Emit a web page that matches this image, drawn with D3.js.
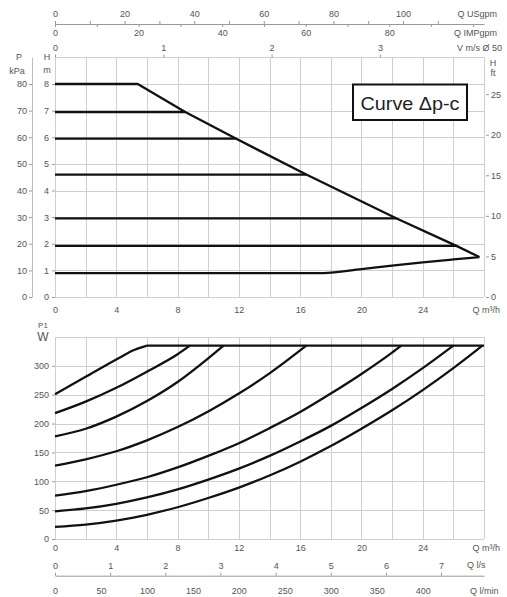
<!DOCTYPE html>
<html><head><meta charset="utf-8">
<script src="https://cdn.jsdelivr.net/npm/d3@7"></script>
<style>
html,body{margin:0;padding:0;background:#fff;}
svg{display:block;font-family:"Liberation Sans",Arial,sans-serif;}
.tick text{fill:#555;font-size:9px;}
.tick line{stroke:#999;}
.unit{fill:#555;font-size:9px;}
</style></head>
<body>
<svg id="c" width="507" height="597"></svg>
<script>
// ---------- data ----------
const qTicks = [0, 4, 8, 12, 16, 20, 24];
const hTicks = [0, 1, 2, 3, 4, 5, 6, 7, 8];
const kpaTicks = [0, 10, 20, 30, 40, 50, 60, 70, 80];
const ftTicks = [0, 5, 10, 15, 20, 25];
const usgpmTicks = [0, 10, 20, 30, 40, 50, 60, 70, 80, 90, 100, 110];
const usgpmLabels = [0, 20, 40, 60, 80, 100];
const impTicks = [0, 10, 20, 30, 40, 50, 60, 70, 80, 90, 100];
const impLabels = [0, 20, 40, 60, 80];
const vTicks = [0, 1, 2, 3];
const pTicks = [0, 50, 100, 150, 200, 250, 300];
const lsTicks = [0, 1, 2, 3, 4, 5, 6, 7];
const lminTicks = [0, 50, 100, 150, 200, 250, 300, 350, 400];

// head curves (Δp-c): constant levels and the Q where each meets the max curve
const headLevels = [6.95, 5.95, 4.6, 2.95, 1.92];
const headEndQ = [8.5, 11.8, 16.4, 22.3, 26.2];
// maximum curve
const maxQ = [0, 5.4, 8.5, 11.8, 16.4, 22.3, 26.2, 27.7];
const maxH = [8, 8, 6.95, 5.95, 4.6, 2.95, 1.92, 1.5];
// minimum curve
const minQ = [0, 17.5, 20, 22, 24, 26, 27.7];
const minH = [0.9, 0.9, 1.05, 1.18, 1.3, 1.41, 1.5];

// power curves P1 (W)
const powerQ = [
  [0, 2, 4, 5.2, 6],
  [0, 2, 4, 6, 8, 8.8],
  [0, 2, 4, 6, 8, 10, 11],
  [0, 2, 4, 6, 8, 10, 12, 14, 16.4],
  [0, 2, 4, 6, 8, 10, 12, 14, 16, 18, 20, 22, 22.6],
  [0, 2, 4, 6, 8, 10, 12, 14, 16, 18, 20, 22, 24, 26],
  [0, 2, 4, 6, 8, 10, 12, 14, 16, 18, 20, 22, 24, 26, 27.9]
];
const powerP = [
  [251, 281, 311, 328, 335],
  [218, 238, 262, 290, 320, 335],
  [178, 191, 212, 239, 272, 313, 335],
  [127, 138, 152, 171, 194, 221, 252, 287, 335],
  [75, 83, 94, 107, 124, 144, 166, 192, 220, 252, 286, 323, 335],
  [48, 53, 61, 72, 86, 103, 122, 144, 169, 196, 227, 260, 296, 335],
  [21, 25, 32, 42, 55, 71, 89, 110, 134, 161, 191, 223, 258, 296, 335]
];
const pMax = 335;
const pMaxQ = [6, 28];

// ---------- scales ----------
const svg = d3.select("#c");
const x = d3.scaleLinear().domain([0, 28]).range([55, 484]);
const yH = d3.scaleLinear().domain([0, 9]).range([297, 57.4]);
const yKpa = d3.scaleLinear().domain([0, 90]).range([297, 57.4]);
const yFt = d3.scaleLinear().domain([0, 9 / 0.3048]).range([297, 57.4]);
const yP = d3.scaleLinear().domain([0, 350]).range([539, 337]);
const xUS = d3.scaleLinear().domain([0, 28 / 0.2271247]).range([55, 484]);
const xIMP = d3.scaleLinear().domain([0, 28 / 0.2727654]).range([55, 484]);
const xV = d3.scaleLinear().domain([0, 28 / 7.0686]).range([55, 484]);
const xLs = d3.scaleLinear().domain([0, 28 / 3.6]).range([55, 484]);
const xLmin = d3.scaleLinear().domain([0, 28 / 0.06]).range([55, 484]);

const gridCol = "#cfcfcf";
// ---------- grids ----------
function grid(yScale, yVals) {
  const g = svg.append("g").attr("stroke", gridCol).attr("stroke-width", 1);
  const [y0, y1] = yScale.range();
  d3.range(0, 29, 2).forEach(q => g.append("line")
    .attr("x1", Math.round(x(q)) + 0.5).attr("x2", Math.round(x(q)) + 0.5)
    .attr("y1", y0).attr("y2", y1));
  yVals.forEach(v => g.append("line")
    .attr("x1", x(0)).attr("x2", x(28))
    .attr("y1", Math.round(yScale(v)) + 0.5).attr("y2", Math.round(yScale(v)) + 0.5));
}
grid(yH, d3.range(0, 10, 1));
grid(yP, d3.range(0, 351, 50));

function styleAxis(g, showDomain) {
  g.select(".domain").attr("stroke", showDomain ? "#999" : "none");
  return g;
}

// ---------- top chart axes ----------
styleAxis(svg.append("g").attr("transform", "translate(0,24)")
  .call(d3.axisTop(xUS).tickValues(usgpmTicks).tickSize(3).tickSizeOuter(0).tickPadding(4)
    .tickFormat(d => usgpmLabels.includes(d) ? d : "")), true);
styleAxis(svg.append("g").attr("transform", "translate(0,24)")
  .call(d3.axisBottom(xIMP).tickValues(impTicks.filter(d => xIMP(d) <= 484)).tickSize(3).tickSizeOuter(0).tickPadding(3)
    .tickFormat(d => impLabels.includes(d) ? d : "")), false);
styleAxis(svg.append("g").attr("transform", "translate(0,57.4)")
  .call(d3.axisTop(xV).tickValues(vTicks).tickSize(3).tickSizeOuter(0).tickPadding(3)
    .tickFormat(d3.format("d"))), false);

styleAxis(svg.append("g").attr("transform", "translate(0,297)")
  .call(d3.axisBottom(x).tickValues(qTicks).tickSize(0).tickPadding(10)), false);
styleAxis(svg.append("g").attr("transform", "translate(55,0)")
  .call(d3.axisLeft(yH).tickValues(hTicks).tickSize(3).tickPadding(3)), false);
const kg = styleAxis(svg.append("g").attr("transform", "translate(32,0)")
  .call(d3.axisLeft(yKpa).tickValues(kpaTicks).tickSize(3).tickSizeOuter(0).tickPadding(2)), true);
kg.select(".domain").attr("stroke", "#bbb");
styleAxis(svg.append("g").attr("transform", "translate(486,0)")
  .call(d3.axisRight(yFt).tickValues(ftTicks).tickSize(3).tickPadding(2)), false);

// ---------- bottom chart axes ----------
styleAxis(svg.append("g").attr("transform", "translate(55,0)")
  .call(d3.axisLeft(yP).tickValues(pTicks).tickSize(3).tickPadding(3)), false);
styleAxis(svg.append("g").attr("transform", "translate(0,539)")
  .call(d3.axisBottom(x).tickValues(qTicks).tickSize(0).tickPadding(6)), false);
styleAxis(svg.append("g").attr("transform", "translate(0,575.7)")
  .call(d3.axisTop(xLs).tickValues(lsTicks).tickSize(3).tickSizeOuter(0).tickPadding(4)), true);
styleAxis(svg.append("g").attr("transform", "translate(0,575.7)")
  .call(d3.axisBottom(xLmin).tickValues(lminTicks).tickSize(0).tickPadding(12)), false);

// ---------- unit labels ----------
function unit(txt, xx, yy, anchor, size) {
  svg.append("text").attr("class", "unit").attr("x", xx).attr("y", yy)
    .attr("text-anchor", anchor || "start").attr("dominant-baseline", "central")
    .style("font-size", (size || 9) + "px").text(txt);
}
unit("Q USgpm", 497, 14, "end");
unit("Q IMPgpm", 497, 33, "end");
unit("V m/s Ø 50", 502, 48, "end");
unit("P", 19, 57, "middle");
unit("kPa", 17, 71, "middle");
unit("H", 47, 57, "middle");
unit("m", 47, 70, "middle");
unit("H", 493, 63, "middle");
unit("ft", 493, 73, "middle");
unit("Q m³/h", 500, 310, "end");
unit("P1", 43, 325, "middle", 8);
unit("W", 43, 337, "middle", 12);
unit("Q m³/h", 500, 548, "end");
unit("Q l/s", 467, 565, "start");
unit("Q l/min", 470, 590.5, "start");

// ---------- curves ----------
const curveCol = "#111";
const lineH = d3.line().x(d => x(d[0])).y(d => yH(d[1]));
const gTop = svg.append("g").attr("fill", "none").attr("stroke", curveCol)
  .attr("stroke-width", 2.3).attr("stroke-linejoin", "round");
gTop.append("path").attr("d", lineH(maxQ.map((q, i) => [q, maxH[i]])));
headLevels.forEach((h, i) => gTop.append("path").attr("d", lineH([[0, h], [headEndQ[i], h]])));
gTop.append("path").attr("d", d3.line().x(d => x(d[0])).y(d => yH(d[1])).curve(d3.curveMonotoneX)(minQ.map((q, i) => [q, minH[i]])));

const lineP = d3.line().x(d => x(d[0])).y(d => yP(d[1])).curve(d3.curveMonotoneX);
const gBot = svg.append("g").attr("fill", "none").attr("stroke", curveCol)
  .attr("stroke-width", 2.3).attr("stroke-linejoin", "round");
gBot.append("path").attr("d", d3.line().x(d => x(d[0])).y(d => yP(d[1]))(pMaxQ.map(q => [q, pMax])));
powerQ.forEach((qs, k) => gBot.append("path").attr("d", lineP(qs.map((q, i) => [q, powerP[k][i]]))));

// ---------- curve label box ----------
const box = svg.append("g");
box.append("rect").attr("x", 353).attr("y", 84.5).attr("width", 114).attr("height", 35.5)
  .attr("fill", "#fff").attr("stroke", "#111").attr("stroke-width", 2);
box.append("text").attr("x", 410).attr("y", 103).attr("text-anchor", "middle")
  .attr("dominant-baseline", "central").attr("fill", "#222")
  .style("font-size", "19px").attr("textLength", 99).attr("lengthAdjust", "spacingAndGlyphs")
  .text("Curve Δp-c");
</script>
</body></html>
